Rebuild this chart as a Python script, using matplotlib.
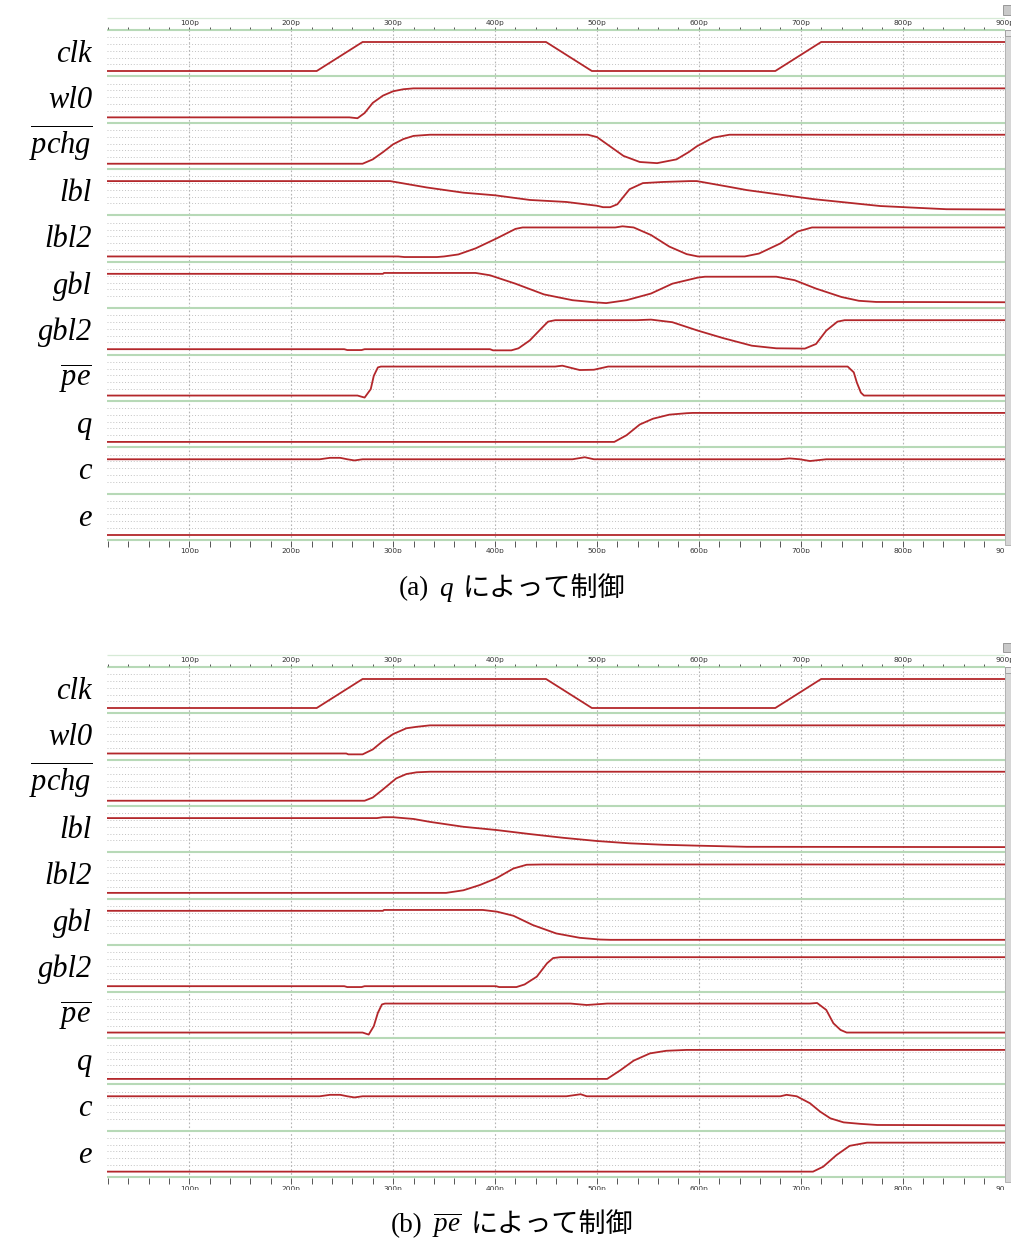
import matplotlib
matplotlib.use('Agg')
import matplotlib.pyplot as plt
import numpy as np
from matplotlib.patches import Rectangle
from matplotlib.offsetbox import TextArea, HPacker, AnchoredOffsetbox

plt.rcParams['mathtext.fontset'] = 'custom'
plt.rcParams['mathtext.it'] = 'Liberation Serif:italic'
plt.rcParams['mathtext.rm'] = 'Liberation Serif'
plt.rcParams['mathtext.bf'] = 'Liberation Serif:bold'

# ---------------- data ----------------
SIGNALS = ['clk', 'wl0', 'pchg', 'lbl', 'lbl2', 'gbl', 'gbl2', 'pe', 'q', 'c', 'e']
LABELS = ['clk', 'wl0', r'$\overline{pchg}$', 'lbl', 'lbl2', 'gbl', 'gbl2',
          r'$\overline{pe}$', 'q', 'c', 'e']
MAJOR_TICKS = [100, 200, 300, 400, 500, 600, 700, 800, 900]
MAJOR_LABELS = ['100p', '200p', '300p', '400p', '500p', '600p', '700p', '800p', '900p']
MINOR_TICKS = list(range(20, 901, 20))

# panel (a): controlled by q   (time in ps, value 0 = low, 1 = high)
a_clk_t = [19, 225, 270, 450, 495, 675, 720, 901]
a_clk_v = [0, 0, 1, 1, 0, 0, 1, 1]
a_wl0_t = [19, 257, 265, 272, 280, 290, 300, 310, 320, 901]
a_wl0_v = [0, 0, -0.03, 0.15, 0.5, 0.75, 0.9, 0.97, 1, 1]
a_pchg_t = [19, 270, 280, 290, 300, 310, 320, 336, 491, 500, 510, 526, 542, 559,
            578, 590, 598, 614, 630, 901]
a_pchg_v = [0, 0, 0.15, 0.4, 0.67, 0.85, 0.96, 1, 1, 0.92, 0.67, 0.27, 0.06, 0.02,
            0.15, 0.4, 0.6, 0.9, 1, 1]
a_lbl_t = [19, 297, 333, 369, 400, 434, 470, 500, 506, 513, 520, 532, 545, 565, 591,
           598, 630, 647, 712, 778, 843, 901]
a_lbl_v = [1, 1, 0.78, 0.6, 0.51, 0.35, 0.28, 0.15, 0.1, 0.1, 0.2, 0.72, 0.93, 0.97, 1,
           1, 0.8, 0.69, 0.38, 0.14, 0.03, 0.02]
a_lbl2_t = [19, 305, 311, 343, 350, 364, 381, 402, 420, 427, 518, 525, 536, 553, 571,
            588, 599, 645, 659, 680, 697, 711, 722, 901]
a_lbl2_v = [0, 0, -0.02, -0.02, 0, 0.07, 0.28, 0.63, 0.95, 1, 1, 1.04, 1, 0.74, 0.34,
            0.08, 0, 0, 0.1, 0.45, 0.86, 1, 1, 1]
a_gbl_t = [19, 290, 291, 381, 395, 420, 448, 476, 497, 509, 529, 553, 574, 599, 606,
           676, 694, 715, 740, 757, 774, 901]
a_gbl_v = [1, 1, 1.03, 1.03, 0.95, 0.66, 0.29, 0.09, 0.02, -0.01, 0.09, 0.32, 0.66, 0.87,
           0.9, 0.9, 0.78, 0.49, 0.2, 0.07, 0.03, 0.02]
a_gbl2_t = [19, 252, 255, 269, 272, 395, 398, 416, 423, 434, 445, 452, 459, 539, 553,
            574, 599, 624, 652, 676, 704, 715, 725, 736, 743, 901]
a_gbl2_v = [0, 0, -0.03, -0.03, 0, 0, -0.04, -0.04, 0.03, 0.3, 0.7, 0.95, 1, 1, 1.02,
            0.93, 0.64, 0.38, 0.12, 0.03, 0.02, 0.18, 0.64, 0.95, 1, 1]
a_pe_t = [19, 265, 272, 278, 281, 285, 288, 459, 466, 483, 497, 511, 746, 752, 755,
          759, 762, 901]
a_pe_v = [0, 0, -0.07, 0.22, 0.68, 0.97, 1, 1, 1.03, 0.88, 0.89, 1, 1, 0.8, 0.45,
          0.1, 0, 0]
a_q_t = [19, 517, 529, 542, 555, 571, 588, 594, 901]
a_q_v = [0, 0, 0.23, 0.6, 0.8, 0.94, 0.99, 1, 1]
a_c_t = [19, 228, 238, 248, 255, 262, 270, 476, 488, 497, 679, 689, 699, 709, 725, 901]
a_c_v = [1, 1, 1.05, 1.05, 1, 0.96, 1, 1, 1.07, 1, 1, 1.03, 1, 0.94, 1, 1]
a_e_t = [19, 901]
a_e_v = [0, 0]

# panel (b): controlled by pe-bar
b_clk_t = [19, 225, 270, 450, 495, 675, 720, 901]
b_clk_v = [0, 0, 1, 1, 0, 0, 1, 1]
b_wl0_t = [19, 254, 256, 270, 280, 290, 300, 313, 323, 336, 901]
b_wl0_v = [0.03, 0.03, 0, 0, 0.17, 0.46, 0.7, 0.9, 0.95, 1, 1]
b_pchg_t = [19, 272, 280, 290, 303, 313, 323, 336, 901]
b_pchg_v = [0, 0, 0.11, 0.39, 0.77, 0.92, 0.98, 1, 1]
b_lbl_t = [19, 284, 290, 300, 320, 336, 369, 401, 434, 467, 500, 532, 565, 598, 647, 901]
b_lbl_v = [1, 1, 1.03, 1.03, 0.97, 0.87, 0.7, 0.59, 0.45, 0.32, 0.21, 0.13, 0.08, 0.05,
           0.01, 0]
b_lbl2_t = [19, 352, 369, 385, 401, 418, 431, 447, 901]
b_lbl2_v = [0.02, 0.02, 0.11, 0.29, 0.52, 0.86, 0.99, 1, 1]
b_gbl_t = [19, 290, 291, 388, 402, 418, 437, 460, 483, 503, 513, 901]
b_gbl_v = [1, 1, 1.03, 1.03, 0.97, 0.83, 0.51, 0.22, 0.07, 0.01, 0, 0]
b_gbl2_t = [19, 252, 255, 269, 272, 401, 404, 421, 429, 441, 451, 457, 464, 901]
b_gbl2_v = [0, 0, -0.03, -0.03, 0, 0, -0.03, -0.03, 0.06, 0.33, 0.79, 0.97, 1, 1]
b_pe_t = [19, 270, 276, 281, 285, 289, 292, 474, 490, 510, 709, 716, 725, 732, 739,
          745, 901]
b_pe_v = [0, 0, -0.07, 0.22, 0.68, 0.97, 1, 1, 0.95, 1, 1, 1.02, 0.78, 0.32, 0.09, 0, 0]
b_q_t = [19, 510, 523, 536, 552, 568, 588, 901]
b_q_v = [0, 0, 0.3, 0.63, 0.88, 0.97, 1, 1]
b_c_t = [19, 228, 238, 248, 255, 262, 270, 470, 484, 490, 680, 686, 696, 709, 719, 729,
         742, 758, 775, 901]
b_c_v = [1, 1, 1.05, 1.05, 1, 0.96, 1, 1, 1.07, 1, 1, 1.05, 1, 0.76, 0.47, 0.24, 0.1,
         0.05, 0.01, 0]
b_e_t = [19, 712, 722, 735, 748, 765, 901]
b_e_v = [0, 0, 0.17, 0.57, 0.89, 1, 1]

PANEL_A = [(a_clk_t, a_clk_v), (a_wl0_t, a_wl0_v), (a_pchg_t, a_pchg_v),
           (a_lbl_t, a_lbl_v), (a_lbl2_t, a_lbl2_v), (a_gbl_t, a_gbl_v),
           (a_gbl2_t, a_gbl2_v), (a_pe_t, a_pe_v), (a_q_t, a_q_v),
           (a_c_t, a_c_v), (a_e_t, a_e_v)]
PANEL_B = [(b_clk_t, b_clk_v), (b_wl0_t, b_wl0_v), (b_pchg_t, b_pchg_v),
           (b_lbl_t, b_lbl_v), (b_lbl2_t, b_lbl2_v), (b_gbl_t, b_gbl_v),
           (b_gbl2_t, b_gbl2_v), (b_pe_t, b_pe_v), (b_q_t, b_q_v),
           (b_c_t, b_c_v), (b_e_t, b_e_v)]

# ---------------- style / layout ----------------
FW, FH = 1012, 1242
T0, T1 = 19.2, 900.4
XL, XR = 107, 1005
H = 510 / 11.0           # row height (px)
LOW_OFF, AMP = 41.0, 29.0
DOT_OFFS = [7.3, 14.05, 20.8, 27.55, 34.3]
Y0, Y1 = -16.0, 522.5
RED = '#b3272b'
GREEN = '#b7d9b7'
DOT = '#c2c2c2'

fig = plt.figure(figsize=(FW / 100, FH / 100), dpi=100)
fig.patch.set_facecolor('white')


def fy(px):
    return 1 - px / FH


def fx(px):
    return px / FW


def draw_panel(P0, waves, caption_children, cap_y):
    ax = fig.add_axes([fx(XL), fy(P0 + Y1), (XR - XL) / FW, (Y1 - Y0) / FH])
    ax.set_xlim(T0, T1)
    ax.set_ylim(Y1, Y0)
    ax.axis('off')
    n = len(SIGNALS)
    # dotted grid
    ys = [i * H + d for i in range(n) for d in DOT_OFFS]
    ax.hlines(ys, T0, T1, colors=DOT, linestyles=(0, (1, 2)), lw=0.7, zorder=1)
    ax.vlines(MAJOR_TICKS, 0, n * H, colors='#b4b4b4', linestyles=(0, (1.5, 2)),
              lw=0.8, zorder=1)
    # separators
    ax.hlines([i * H for i in range(n + 1)], T0, T1, colors=GREEN, lw=1.5, zorder=2)
    ax.hlines([-12.5], T0, T1, colors='#d6ead6', lw=0.9, zorder=2)
    # rulers
    ax.vlines(MINOR_TICKS, -3.2, -0.8, colors='#555555', lw=0.7, zorder=3)
    ax.vlines(MINOR_TICKS, n * H + 1.2, n * H + 6.5, colors='#555555', lw=0.7, zorder=3)
    for t, lab in zip(MAJOR_TICKS, MAJOR_LABELS):
        ax.text(t, -6.8, lab, ha='center', va='center', fontsize=5.3,
                color='#333333', clip_on=False, family='DejaVu Sans')
        ax.text(t, n * H + 8.5, lab, ha='center', va='top', fontsize=5.3,
                color='#333333', clip_on=True, family='DejaVu Sans')
    # waves
    for i, (t, v) in enumerate(waves):
        y = i * H + LOW_OFF - AMP * np.asarray(v, dtype=float)
        ax.plot(t, y, color=RED, lw=1.3, solid_joinstyle='round', zorder=4)
    # row labels
    for i, lab in enumerate(LABELS):
        fig.text(fx(92), fy(P0 + i * H + 32), lab, ha='right', va='baseline',
                 fontsize=22, family='Liberation Serif', style='italic')
    # scrollbar and corner icon
    fig.add_artist(Rectangle((fx(1005.5), fy(P0 + 515)), fx(6.5), 515 / FH,
                             transform=fig.transFigure, facecolor='#d6d6d6',
                             edgecolor='#a9a9a9', lw=0.6))
    fig.add_artist(Rectangle((fx(1005.5), fy(P0 + 6)), fx(6.5), 6 / FH,
                             transform=fig.transFigure, facecolor='#e4e4e4',
                             edgecolor='#9a9a9a', lw=0.6))
    fig.add_artist(Rectangle((fx(1003.5), fy(P0 - 15.5)), fx(8), 9 / FH,
                             transform=fig.transFigure, facecolor='#c9c9c9',
                             edgecolor='#8c8c8c', lw=0.6))
    # caption
    box = HPacker(children=caption_children, align='baseline', pad=0, sep=7)
    anch = AnchoredOffsetbox(loc='center', child=box, frameon=False,
                             bbox_to_anchor=(0.506, fy(cap_y)),
                             bbox_transform=fig.transFigure, borderpad=0, pad=0)
    fig.add_artist(anch)


serif = dict(family='Liberation Serif', fontsize=19.5)
serif_it = dict(family='Liberation Serif', style='italic', fontsize=19.5)
cjk = dict(family='Noto Sans CJK JP', fontsize=19.5)

cap_a = [TextArea('(a)', textprops=serif), TextArea('q', textprops=serif_it),
         TextArea('によって制御', textprops=cjk)]
cap_b = [TextArea('(b)', textprops=serif),
         TextArea(r'$\overline{pe}$', textprops=serif),
         TextArea('によって制御', textprops=cjk)]

draw_panel(30, PANEL_A, cap_a, 588)
draw_panel(667, PANEL_B, cap_b, 1225)

fig.savefig('out.png', dpi=100, facecolor='white')
